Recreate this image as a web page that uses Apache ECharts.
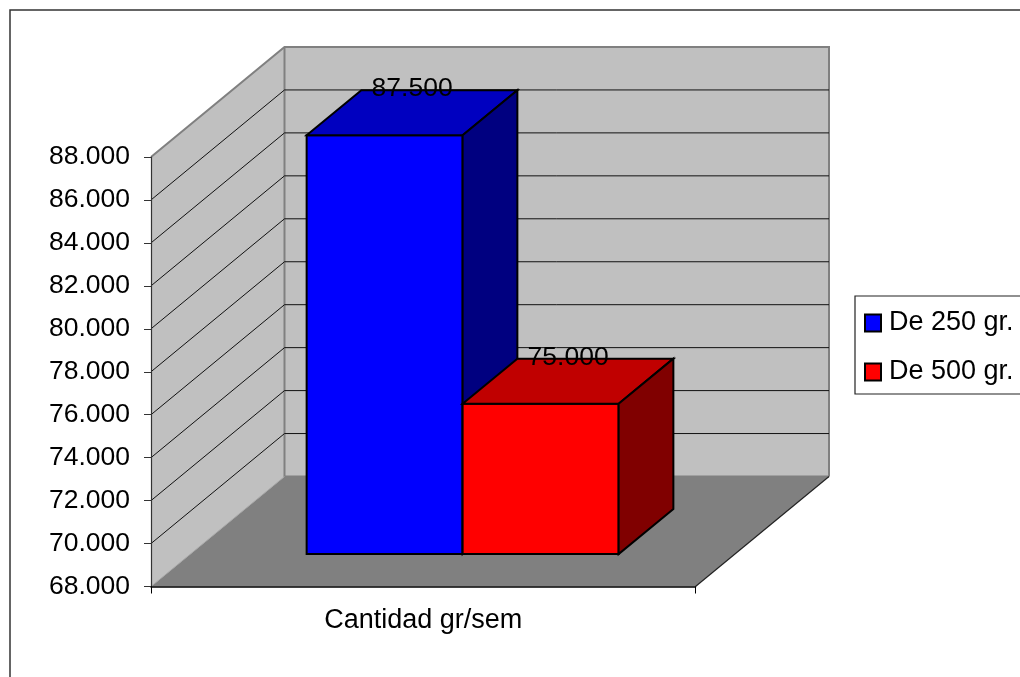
<!DOCTYPE html>
<html>
<head>
<meta charset="utf-8">
<style>html,body{margin:0;padding:0;background:#fff;overflow:hidden}#c{width:1020px;height:677px}</style>
<script src="https://cdn.jsdelivr.net/npm/echarts@6/dist/echarts.min.js"></script>
</head>
<body>
<div id="c"></div>
<script>
const categories = ['Cantidad gr/sem'];
const seriesNames = ['De 250 gr.', 'De 500 gr.'];
const values250 = [87500];
const values500 = [75000];
const yTicks = [70000, 72000, 74000, 76000, 78000, 80000, 82000, 84000, 86000];

const yMin = 68000, yMax = 88000, yStep = 2000;
const FONT = '"Liberation Sans", Arial, sans-serif';
const DX = 133.5, DY = 110;          // wall depth in pixels
const BAR_NEAR = 0.295, BAR_DEEP = 0.41, BAR_W = 0.2865;

function fmt(v) { return String(v).replace(/\B(?=(\d{3})+$)/g, '.'); }

function poly(points, fill, stroke, lw) {
  return { type: 'polygon', shape: { points }, style: { fill, stroke: stroke || 'none', lineWidth: lw || 0 }, silent: true };
}
function line(points, stroke, lw) {
  return { type: 'polyline', shape: { points }, style: { fill: 'none', stroke, lineWidth: lw }, silent: true };
}

function renderWalls(params, api) {
  const w = api.size([1, 0])[0];
  const c = api.coord([0, yMin]);
  const top = api.coord([0, yMax])[1];
  const bot = c[1];
  const L = c[0] - w / 2, R = c[0] + w / 2;
  const GW = '#808080';
  return { type: 'group', children: [
    poly([[L + DX, top - DY], [R + DX, top - DY], [R + DX, bot - DY], [L + DX, bot - DY]], '#c0c0c0'),
    poly([[L, top], [L + DX, top - DY], [L + DX, bot - DY], [L, bot]], '#c0c0c0'),
    poly([[L, bot], [L + DX, bot - DY], [R + DX, bot - DY], [R, bot]], '#808080'),
    line([[L, top], [L + DX, top - DY], [R + DX, top - DY], [R + DX, bot - DY]], GW, 2),
    line([[L + DX, top - DY], [L + DX, bot - DY], [R + DX, bot - DY]], GW, 2),
    line([[L, bot], [L + DX, bot - DY]], '#a8a8a8', 1),
    line([[R, bot], [R + DX, bot - DY]], '#222', 1.2)
  ]};
}

function renderGrid(params, api) {
  const w = api.size([1, 0])[0];
  const p = api.coord([0, api.value(1)]);
  const L = p[0] - w / 2, R = p[0] + w / 2;
  return line([[L, p[1]], [L + DX, p[1] - DY], [R + DX, p[1] - DY]], '#111', 1);
}

function barRenderer(slot, front, topFace, sideFace) {
  return function (params, api) {
    const plotW = api.size([1, 0])[0];
    const bw = plotW * BAR_W;
    const v = api.value(1);
    const t = api.coord([api.value(0), v]);
    const b = api.coord([api.value(0), yMin]);
    const ox = DX * BAR_NEAR, oy = DY * BAR_NEAR;
    const dx = DX * BAR_DEEP, dy = DY * BAR_DEEP;
    const x0 = t[0] + (slot - 1) * bw + ox, x1 = x0 + bw;
    const yT = t[1] - oy, yB = b[1] - oy;
    const K = '#000', LW = 2;
    return { type: 'group', children: [
      poly([[x0, yT], [x1, yT], [x1, yB], [x0, yB]], front, K, LW),
      poly([[x0, yT], [x0 + dx, yT - dy], [x1 + dx, yT - dy], [x1, yT]], topFace, K, LW),
      poly([[x1, yT], [x1 + dx, yT - dy], [x1 + dx, yB - dy], [x1, yB]], sideFace, K, LW),
      { type: 'text', silent: true, z2: 50,
        style: { text: fmt(v), x: (x0 + x1) / 2 + 27.5, y: yT - 46.5, align: 'center', verticalAlign: 'middle',
                 font: '26.5px ' + FONT, fill: '#000' } }
    ]};
  };
}

const chart = echarts.init(document.getElementById('c'), null, { renderer: 'canvas' });
chart.setOption({
  animation: false,
  backgroundColor: '#fff',
  textStyle: { fontFamily: FONT },
  graphic: [{ type: 'rect', z: -1, silent: true, shape: { x: 10, y: 10, width: 1200, height: 900 },
              style: { fill: 'none', stroke: '#333', lineWidth: 1.5 } }],
  grid: { left: 151, top: 157, width: 544.5, height: 429.5, containLabel: false, outerBoundsMode: 'none' },
  legend: {
    orient: 'vertical', left: 855, top: 296, width: 180,
    data: seriesNames, padding: [12, 10, 7, 9], itemGap: 19,
    itemWidth: 16, itemHeight: 17, icon: 'rect',
    backgroundColor: '#fff', borderColor: '#222', borderWidth: 1.2, borderRadius: 0,
    itemStyle: { borderColor: '#000', borderWidth: 2 },
    textStyle: { fontSize: 27, fontFamily: FONT, color: '#000', lineHeight: 30, padding: [0, 0, 0, 3] },
    selectedMode: false
  },
  xAxis: {
    type: 'category', data: categories, boundaryGap: true, z: 10,
    axisLine: { show: true, lineStyle: { color: '#000', width: 1.5 } },
    axisTick: { show: true, length: 7, lineStyle: { color: '#000', width: 1 } },
    axisLabel: { margin: 21, fontSize: 27, fontFamily: FONT, color: '#000' },
    splitLine: { show: false }
  },
  yAxis: {
    type: 'value', min: yMin, max: yMax, interval: yStep, z: 10,
    axisLine: { show: true, lineStyle: { color: '#333', width: 1.2 } },
    axisTick: { show: true, length: 7, lineStyle: { color: '#333', width: 1 } },
    axisLabel: { margin: 21, fontSize: 26.5, fontFamily: FONT, color: '#000', formatter: fmt },
    splitLine: { show: false }
  },
  series: [
    { type: 'custom', name: 'walls', z: 1, silent: true, renderItem: renderWalls, data: [[0, yMin]], clip: false },
    { type: 'custom', name: 'gridlines', z: 2, silent: true, renderItem: renderGrid,
      data: yTicks.map(v => [0, v]), clip: false },
    { type: 'custom', name: seriesNames[0], z: 3, silent: true, itemStyle: { color: '#0000ff' },
      renderItem: barRenderer(0, '#0000ff', '#0000c0', '#000080'),
      data: values250.map((v, i) => [i, v]), encode: { x: 0, y: 1 }, clip: false },
    { type: 'custom', name: seriesNames[1], z: 4, silent: true, itemStyle: { color: '#ff0000' },
      renderItem: barRenderer(1, '#ff0000', '#c00000', '#800000'),
      data: values500.map((v, i) => [i, v]), encode: { x: 0, y: 1 }, clip: false }
  ]
});
</script>
</body>
</html>
